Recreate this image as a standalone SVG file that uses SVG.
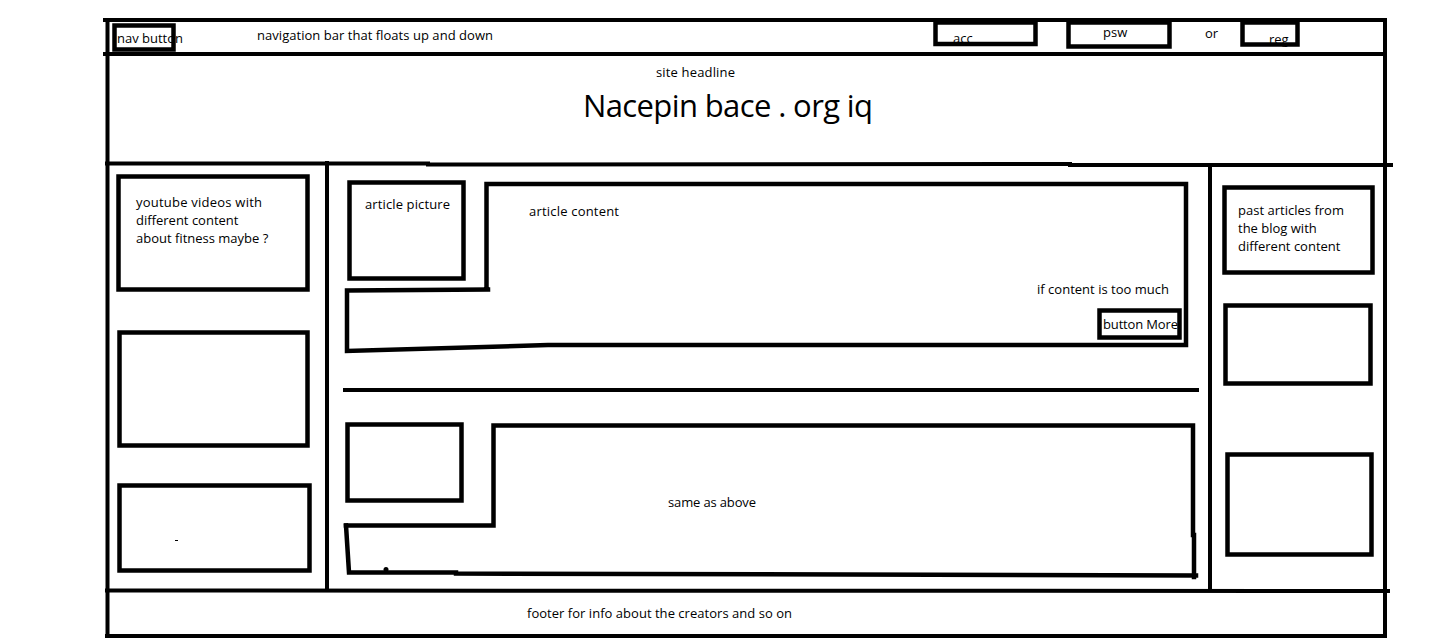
<svg xmlns="http://www.w3.org/2000/svg" width="1439" height="638" viewBox="0 0 1439 638">
<style>
  .ln{fill:none;stroke:#000;stroke-width:4.5;stroke-linecap:square;stroke-linejoin:miter}
  .fr{fill:none;stroke:#000;stroke-width:4;stroke-linecap:square}
  .t{font-family:"Open Sans","Noto Sans","Liberation Sans",sans-serif;font-size:13px;fill:#000}
  .h{font-family:"Open Sans","Noto Sans","Liberation Sans",sans-serif;font-size:31px;fill:#000}
</style>
<rect width="1439" height="638" fill="#fff"/>

<g id="frame">
  <line class="fr" x1="105" y1="20" x2="1385" y2="20"/>
  <line class="fr" x1="107.5" y1="20" x2="107.5" y2="636"/>
  <line class="fr" x1="1385" y1="20" x2="1385" y2="636"/>
  <line class="fr" x1="105" y1="54" x2="1385" y2="54"/>
  <polyline class="fr" points="107,163.5 428,163.5 428,164.5 1070,164 1070,165 1391,165"/>
  <line class="fr" x1="327" y1="163" x2="327" y2="590"/>
  <line class="fr" x1="1210" y1="165" x2="1210" y2="590"/>
  <polyline class="fr" points="107,590.5 1388,591"/>
  <line class="fr" x1="107" y1="636" x2="1385" y2="636"/>
  <line class="fr" x1="345" y1="390" x2="1197" y2="390"/>
</g>

<g id="navbar">
  <text class="t" x="117" y="43" textLength="66">nav button</text>
  <rect class="ln" x="114.5" y="25.5" width="59" height="24"/>
  <text class="t" x="257" y="40" textLength="236">navigation bar that floats up and down</text>
</g>
<g id="acc">
  <text class="t" x="953" y="43">acc</text>
  <rect class="ln" x="935.5" y="22.5" width="100" height="21.5"/>
</g>
<g id="psw">
  <text class="t" x="1103" y="37">psw</text>
  <rect class="ln" x="1068.5" y="22.5" width="101" height="24"/>
</g>
<g id="or">
  <text class="t" x="1205" y="38">or</text>
</g>
<g id="reg">
  <text class="t" x="1269" y="44">reg</text>
  <rect class="ln" x="1242.5" y="22.5" width="55" height="22"/>
</g>

<g id="headline">
  <text class="t" x="656" y="77" textLength="79">site headline</text>
  <text class="h" x="583" y="117" textLength="290">Nacepin bace . org iq</text>
</g>

<g id="left-box-1">
  <rect class="ln" x="118.5" y="176.5" width="189" height="113"/>
  <text class="t" x="136" y="207" textLength="126">youtube videos with</text>
  <text class="t" x="136" y="225">different content</text>
  <text class="t" x="136" y="243">about fitness maybe ?</text>
</g>
<g id="left-box-2">
  <rect class="ln" x="119.5" y="332.5" width="188" height="113"/>
</g>
<g id="left-box-3">
  <rect class="ln" x="119.5" y="485.5" width="190" height="85"/>
  <line x1="175" y1="540.5" x2="178" y2="540.5" stroke="#000" stroke-width="1"/>
</g>

<g id="article-1-picture">
  <rect class="ln" x="349.5" y="182.5" width="114" height="96"/>
  <text class="t" x="365" y="209" textLength="85">article picture</text>
</g>
<g id="article-1-content">
  <polyline class="ln" points="486.5,289.5 486.5,184 1186,184 1186,345 548,345 347,351 347,290.5 488,289.5"/>
  <text class="t" x="529" y="216" textLength="90">article content</text>
  <text class="t" x="1037" y="294" textLength="132">if content is too much</text>
</g>
<g id="button-more">
  <text class="t" x="1103" y="329" textLength="75">button More</text>
  <rect class="ln" x="1099.5" y="310.5" width="80" height="27"/>
</g>

<g id="article-2-picture">
  <rect class="ln" x="347.5" y="424.5" width="114" height="76"/>
</g>
<g id="article-2-content">
  <polyline class="ln" points="346,525.5 493.5,525.5 493.5,425.5 1193,425.5 1193,535 1194,535 1194,577"/>
  <polyline class="ln" points="346,525.5 349,572.5 456,572.5 456,573.5 1196,575.5"/>
  <circle cx="386" cy="569.5" r="2.5" fill="#000"/>
  <text class="t" x="668" y="507" textLength="88">same as above</text>
</g>

<g id="right-box-1">
  <rect class="ln" x="1224.5" y="187.5" width="148" height="85"/>
  <text class="t" x="1238" y="215" textLength="106">past articles from</text>
  <text class="t" x="1238" y="233">the blog with</text>
  <text class="t" x="1238" y="251">different content</text>
</g>
<g id="right-box-2">
  <rect class="ln" x="1225.5" y="305.5" width="145" height="78"/>
</g>
<g id="right-box-3">
  <rect class="ln" x="1227.5" y="454.5" width="144" height="100"/>
</g>

<g id="footer">
  <text class="t" x="527" y="618" textLength="265">footer for info about the creators and so on</text>
</g>
<g id="connectors"></g>
</svg>
